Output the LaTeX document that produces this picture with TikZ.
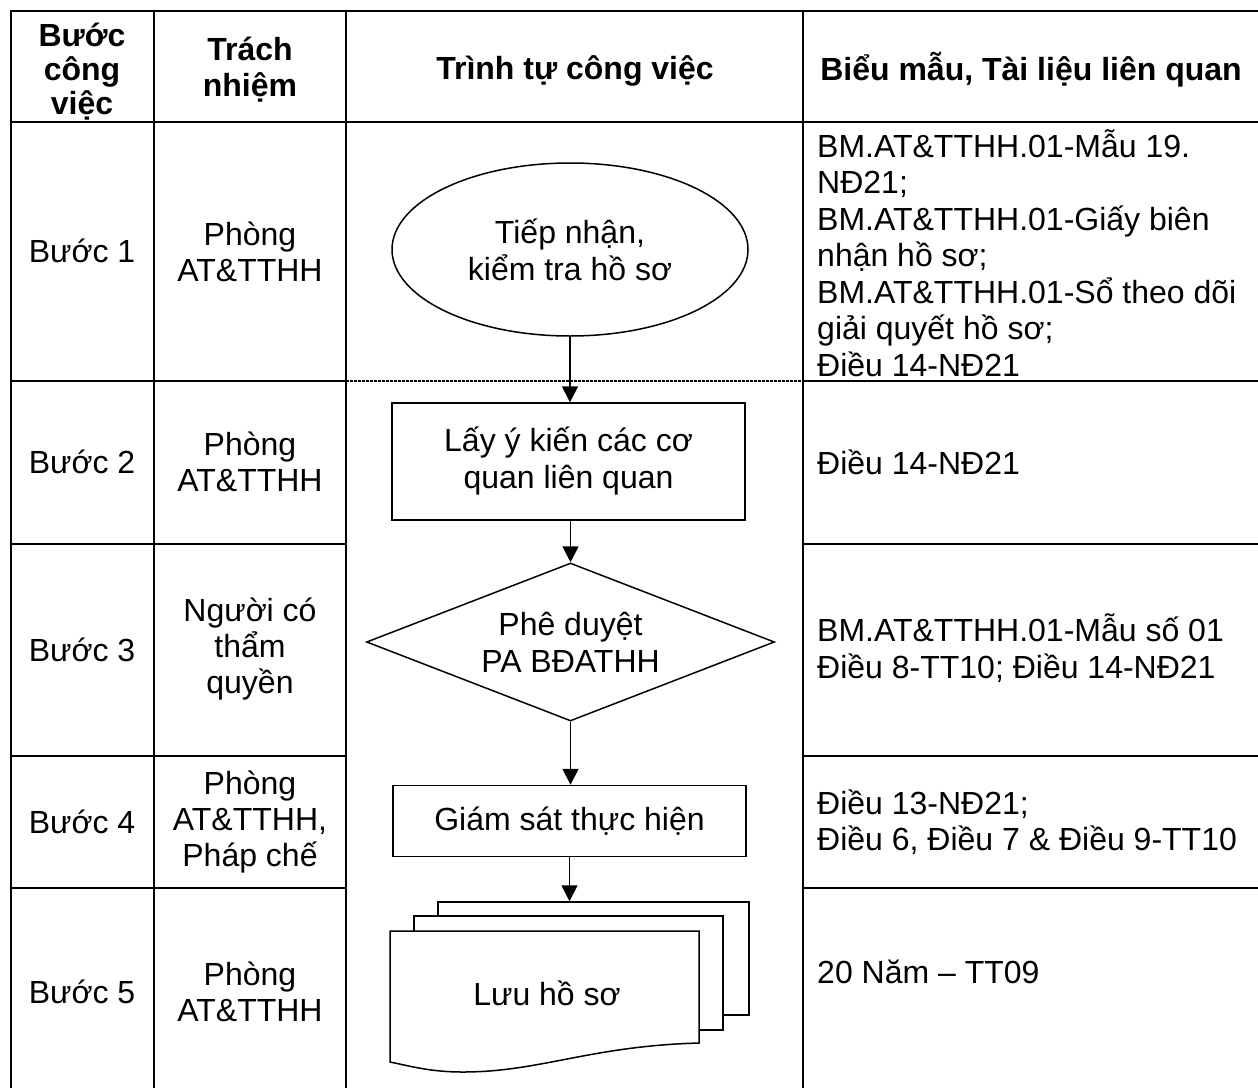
\documentclass[tikz,border=0pt]{standalone}
\usepackage{fontspec}
\setmainfont{Liberation Sans}
\usetikzlibrary{shapes.geometric,arrows.meta}
\begin{document}
\begin{tikzpicture}[x=1pt,y=-1pt,
  grid/.style={line width=2pt},
  shp/.style={draw,line width=1.5pt,align=center,inner sep=0pt,font=\fontsize{32}{37}\selectfont},
  arr/.style={line width=1.8pt,-{Triangle[length=16pt,width=16pt]}},
  txt/.style={align=center,inner sep=0pt,font=\fontsize{32}{36}\selectfont},
  ltxt/.style={align=left,anchor=west,inner sep=0pt,font=\fontsize{32}{36.5}\selectfont},
  hdr/.style={align=center,inner sep=0pt,font=\fontsize{32}{34}\selectfont\bfseries}]
\useasboundingbox (0,0) rectangle (1258,1087);
% table grid
\draw[grid] (11,1092) -- (11,11) -- (1262,11);
\draw[grid] (154,11) -- (154,1092);
\draw[grid] (346,11) -- (346,1092);
\draw[grid] (803,11) -- (803,1092);
\draw[grid] (11,122) -- (1262,122);
\foreach \yy in {381,544,756,888}{
  \draw[grid] (11,\yy) -- (346,\yy);
  \draw[grid] (803,\yy) -- (1262,\yy);
}
\draw[line width=1.6pt,dash pattern=on 3pt off 1pt] (346,381) -- (803,381);
% headers
\node[hdr] (h1) at (82,72) {Bước\\công\\việc};
\node[hdr,font=\fontsize{32}{36}\selectfont\bfseries] (h2) at (250,70) {Trách\\nhiệm};
\node[hdr] (h3) at (575,71) {Trình tự công việc};
\node[hdr] (h4) at (1031,70) {Biểu mẫu, Tài liệu liên quan};
% column 1
\node[txt] (b1) at (82,251) {Bước 1};
\node[txt] (b2) at (82,462) {Bước 2};
\node[txt] (b3) at (82,650) {Bước 3};
\node[txt] (b4) at (82,822) {Bước 4};
\node[txt] (b5) at (82,992) {Bước 5};
% column 2
\node[txt] (r1) at (250,252) {Phòng\\AT\&TTHH};
\node[txt] (r2) at (250,462) {Phòng\\AT\&TTHH};
\node[txt] (r3) at (250,649) {Người có\\thẩm\\quyền};
\node[txt] (r4) at (250,822) {Phòng\\AT\&TTHH,\\Pháp chế};
\node[txt] (r5) at (250,992) {Phòng\\AT\&TTHH};
% column 4
\node[ltxt] (d1) at (817,253) {BM.AT\&TTHH.01-Mẫu 19.\\NĐ21;\\BM.AT\&TTHH.01-Giấy biên\\nhận hồ sơ;\\BM.AT\&TTHH.01-Sổ theo dõi\\giải quyết hồ sơ;\\Điều 14-NĐ21};
\node[ltxt] (d2) at (817,462) {Điều 14-NĐ21};
\node[ltxt] (d3) at (817,648) {BM.AT\&TTHH.01-Mẫu số 01\\Điều 8-TT10; Điều 14-NĐ21};
\node[ltxt] (d4) at (817,822) {Điều 13-NĐ21;\\Điều 6, Điều 7 \& Điều 9-TT10};
\node[ltxt] (d5) at (817,972) {20 Năm – TT09};
% flowchart
\node[shp,ellipse,minimum width=356pt,minimum height=173pt] (s1) at (570,249.5) {Tiếp nhận,\\kiểm tra hồ sơ};
\node[shp,rectangle,minimum width=353pt,minimum height=117pt] (s2) at (568.5,461.5) {Lấy ý kiến các cơ\\quan liên quan};
\node[shp,diamond,aspect=2.58,minimum width=408pt,minimum height=158pt] (s3) at (570.5,642) {Phê duyệt\\PA BĐATHH};
\node[shp,rectangle,minimum width=353pt,minimum height=71pt] (s4) at (569.5,821) {Giám sát thực hiện};
\node[draw,line width=1.5pt,minimum width=311pt,minimum height=113pt,inner sep=0pt] (s5) at (593.5,958.5) {};
\draw[line width=1.5pt,fill=white] (414,916) rectangle (723,1030);
\draw[line width=1.5pt,fill=white] (390,931) -- (699,931) -- (699,1043)
  .. controls (590,1046) and (540,1072) .. (463,1072)
  .. controls (430,1072) and (410,1066) .. (390,1062) -- cycle;
\node[txt] (s5t) at (547,993) {Lưu hồ sơ};
% arrows
\draw[arr] (s1.south) -- (s1.south |- s2.north);
\draw[arr] (s3.north |- s2.south) -- (s3.north);
\draw[arr] (s3.south) -- (s3.south |- s4.north);
\draw[arr] (s4.south) -- (s4.south |- s5.north);
\end{tikzpicture}
\end{document}
